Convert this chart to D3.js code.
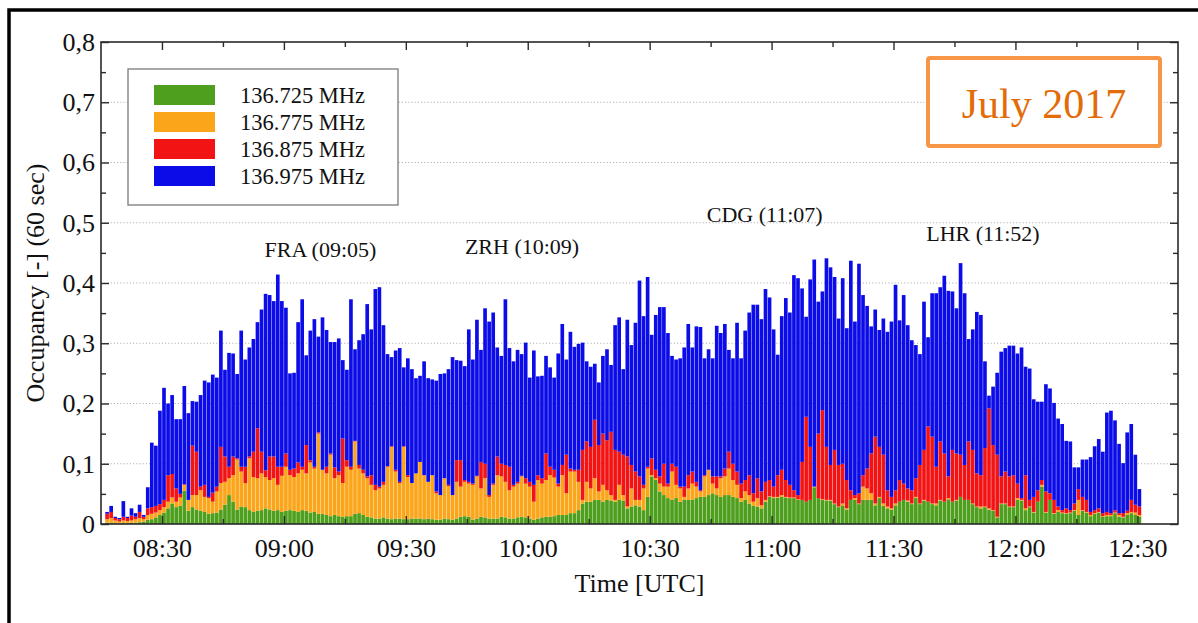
<!DOCTYPE html>
<html>
<head>
<meta charset="utf-8">
<script src="https://cdn.jsdelivr.net/npm/d3@7"></script>
<style>
body { margin: 0; background: #fff; }
svg text { font-family: "Liberation Serif", "Times New Roman", serif; fill: #111; }
</style>
</head>
<body>
<div id="chart"></div>
<script>
// one bar per minute, first bar starts at 08:16
var startTime = "08:16"
var xDomain = ["08:15", "12:40"]

var seriesNames = ["136.725 MHz", "136.775 MHz", "136.875 MHz", "136.975 MHz"]
var seriesColors = ["#4e9f1e", "#fba51a", "#f21414", "#0c0ce8"]

// occupancy per series (stacked bottom to top: green, orange, red, blue)
var green = [0.002,0.002,0.001,0.001,0.002,0.001,0.002,0.002,0.003,0.004,
0.007,0.008,0.011,0.015,0.019,0.026,0.034,0.028,0.030,0.055,
0.022,0.028,0.024,0.022,0.020,0.017,0.018,0.019,0.024,0.032,
0.048,0.037,0.024,0.029,0.028,0.023,0.020,0.022,0.023,0.026,
0.024,0.022,0.023,0.020,0.022,0.023,0.022,0.020,0.023,0.022,
0.019,0.020,0.017,0.017,0.015,0.013,0.015,0.013,0.012,0.013,
0.013,0.017,0.018,0.015,0.012,0.011,0.009,0.009,0.011,0.009,
0.008,0.009,0.009,0.008,0.008,0.009,0.009,0.009,0.008,0.009,
0.008,0.007,0.007,0.009,0.008,0.007,0.009,0.012,0.013,0.012,
0.007,0.009,0.012,0.011,0.009,0.009,0.009,0.012,0.011,0.009,
0.009,0.011,0.012,0.011,0.009,0.007,0.009,0.011,0.012,0.012,
0.013,0.015,0.015,0.015,0.018,0.018,0.023,0.034,0.037,0.037,
0.040,0.040,0.037,0.040,0.039,0.037,0.040,0.039,0.026,0.029,
0.031,0.029,0.023,0.045,0.079,0.073,0.054,0.048,0.043,0.040,
0.043,0.037,0.040,0.040,0.040,0.043,0.045,0.045,0.048,0.051,
0.048,0.045,0.048,0.048,0.045,0.043,0.037,0.040,0.034,0.030,
0.029,0.026,0.037,0.045,0.043,0.044,0.045,0.044,0.043,0.043,
0.040,0.040,0.037,0.040,0.061,0.043,0.040,0.039,0.039,0.033,
0.028,0.031,0.024,0.040,0.040,0.033,0.040,0.040,0.040,0.031,
0.043,0.030,0.026,0.024,0.031,0.037,0.040,0.037,0.033,0.043,
0.033,0.039,0.037,0.033,0.031,0.039,0.037,0.041,0.037,0.039,
0.045,0.040,0.040,0.033,0.028,0.026,0.028,0.024,0.022,0.011,
0.033,0.033,0.028,0.028,0.040,0.039,0.023,0.028,0.019,0.037,
0.062,0.019,0.040,0.017,0.020,0.018,0.017,0.018,0.022,0.015,
0.022,0.019,0.013,0.017,0.019,0.012,0.013,0.013,0.018,0.012,
0.011,0.015,0.018,0.015,0.012]

var orange = [0.006,0.008,0.005,0.003,0.004,0.004,0.004,0.006,0.007,0.004,
0.008,0.009,0.008,0.008,0.009,0.011,0.010,0.009,0.014,0.010,
0.018,0.020,0.024,0.034,0.025,0.026,0.019,0.035,0.044,0.038,
0.028,0.044,0.083,0.058,0.040,0.086,0.058,0.054,0.061,0.052,
0.049,0.054,0.042,0.060,0.073,0.058,0.056,0.064,0.067,0.062,
0.083,0.072,0.133,0.073,0.069,0.102,0.061,0.068,0.056,0.082,
0.077,0.120,0.074,0.069,0.064,0.054,0.047,0.050,0.054,0.086,
0.120,0.078,0.059,0.120,0.070,0.059,0.075,0.094,0.073,0.061,
0.073,0.044,0.041,0.067,0.055,0.041,0.061,0.050,0.057,0.055,
0.058,0.070,0.047,0.065,0.036,0.056,0.072,0.067,0.059,0.047,
0.053,0.056,0.067,0.056,0.053,0.030,0.064,0.056,0.061,0.069,
0.064,0.047,0.066,0.036,0.069,0.069,0.047,0.006,0.033,0.022,
0.036,0.014,0.028,0.016,0.009,0.003,0.025,0.009,0.003,0.030,
0.009,0.011,0.036,0.047,0.002,0.003,0.013,0.014,0.019,0.047,
0.022,0.022,0.005,0.019,0.027,0.019,0.009,0.034,0.042,0.016,
0.011,0.031,0.031,0.044,0.028,0.022,0.006,0.014,0.014,0.007,
0.014,0.005,0.003,0.001,0.002,0.001,0.003,0.001,0.001,0.001,
0.001,0,0,0,0.001,0,0.001,0.001,0.001,0.001,
0.001,0.003,0.002,0,0.003,0.001,0.022,0.019,0.011,0.003,
0.002,0.004,0.003,0.002,0.003,0,0,0.002,0.001,0.002,
0.001,0.001,0,0.001,0.003,0.001,0,0.002,0,0.001,
0,0,0,0.001,0.001,0.003,0.001,0.002,0.001,0.001,
0.001,0.001,0.001,0.001,0.003,0.001,0.003,0.001,0.001,0,
0.003,0.001,0,0.001,0.003,0.001,0.001,0.001,0.001,0.025,
0.001,0.001,0.002,0.001,0.001,0.001,0.002,0.002,0.001,0.003,
0.001,0.003,0.002,0.004,0.003]

var red = [0.009,0.010,0.004,0.004,0.006,0.005,0.008,0.004,0.010,0.004,
0.011,0.011,0.011,0.010,0.012,0.044,0.039,0.022,0.006,0.001,
0,0.082,0.072,0.006,0.020,0.002,0.015,0.008,0.060,0.042,
0.019,0.031,0.002,0.008,0.027,0.003,0.042,0.083,0.036,0.011,
0.039,0.036,0.030,0.015,0.022,0.009,0.014,0.018,0.005,0.047,
0.004,0.003,0.002,0,0.011,0.002,0.018,0.006,0.074,0.011,
0.005,0.001,0.006,0.006,0.003,0.016,0.009,0.003,0.005,0.001,
0.001,0.003,0.002,0.001,0.003,0,0,0,0,0,
0,0.003,0,0,0.002,0,0.036,0.044,0.003,0.003,
0.002,0.001,0.044,0.024,0.003,0.002,0.031,0.021,0.028,0.039,
0.003,0.003,0.001,0.009,0.008,0.028,0.008,0.009,0.044,0.014,
0.013,0.005,0.017,0.064,0.005,0.003,0.020,0.083,0.067,0.069,
0.097,0.077,0.085,0.083,0.105,0.083,0.055,0.067,0.083,0.039,
0.047,0.039,0.006,0.003,0.028,0.014,0.012,0.038,0.005,0.013,
0.030,0.003,0.017,0.022,0.020,0.008,0.002,0.002,0,0.012,
0.020,0.003,0.013,0.028,0.027,0.022,0.024,0.019,0.033,0.014,
0.033,0.023,0.030,0.027,0.017,0.036,0.042,0.028,0.021,0.012,
0.007,0.063,0.141,0.088,0,0.107,0.148,0.088,0.058,0.089,
0.069,0.066,0.047,0.016,0.005,0.017,0.019,0.033,0.066,0.111,
0.083,0.081,0.027,0.019,0.022,0.036,0.027,0.020,0.022,0.031,
0.064,0.083,0.125,0.111,0.061,0.097,0.080,0.036,0.086,0.077,
0.070,0.058,0.097,0.089,0.055,0.052,0.097,0.166,0.108,0.103,
0.045,0.053,0.050,0.052,0.024,0.003,0.055,0.011,0.025,0.019,
0.008,0.034,0.011,0.022,0.006,0.004,0.008,0.004,0.011,0.018,
0.022,0.020,0.005,0.005,0.006,0.005,0.005,0.003,0.004,0.003,
0.006,0.004,0.020,0.013,0.014]

var blue = [0.003,0.010,0.002,0.002,0.026,0.002,0.012,0.006,0.012,0.003,
0.035,0.107,0.100,0.155,0.186,0.119,0.131,0.115,0.124,0.163,
0.144,0.074,0.083,0.152,0.173,0.190,0.196,0.181,0.193,0.144,
0.189,0.171,0.140,0.226,0.178,0.181,0.187,0.176,0.236,0.293,
0.268,0.258,0.319,0.275,0.242,0.160,0.159,0.233,0.278,0.149,
0.215,0.245,0.159,0.253,0.227,0.185,0.208,0.221,0.130,0.150,
0.278,0.152,0.207,0.225,0.286,0.242,0.325,0.331,0.260,0.186,
0.148,0.198,0.222,0.131,0.194,0.189,0.158,0.143,0.189,0.172,
0.159,0.184,0.201,0.174,0.192,0.229,0.166,0.165,0.189,0.253,
0.206,0.259,0.186,0.258,0.288,0.284,0.181,0.179,0.275,0.197,
0.205,0.219,0.202,0.225,0.173,0.223,0.164,0.170,0.162,0.165,
0.153,0.216,0.234,0.158,0.227,0.204,0.209,0.178,0.133,0.133,
0.093,0.104,0.129,0.151,0.111,0.207,0.223,0.142,0.227,0.199,
0.247,0.325,0.280,0.315,0.205,0.257,0.281,0.260,0.250,0.179,
0.178,0.213,0.231,0.251,0.206,0.258,0.271,0.194,0.200,0.196,
0.250,0.238,0.240,0.169,0.175,0.247,0.208,0.248,0.270,0.313,
0.288,0.286,0.320,0.303,0.261,0.200,0.255,0.302,0.286,0.357,
0.360,0.288,0.166,0.278,0.377,0.219,0.197,0.313,0.328,0.287,
0.243,0.308,0.252,0.381,0.288,0.381,0.299,0.270,0.211,0.211,
0.194,0.226,0.263,0.291,0.341,0.265,0.313,0.271,0.249,0.221,
0.184,0.246,0.148,0.238,0.288,0.256,0.295,0.308,0.263,0.241,
0.318,0.285,0.170,0.200,0.268,0.266,0.144,0.021,0.097,0.136,
0.207,0.205,0.217,0.215,0.216,0.250,0.180,0.218,0.162,0.147,
0.130,0.178,0.174,0.161,0.146,0.143,0.112,0.114,0.060,0.036,
0.062,0.067,0.091,0.106,0.115,0.102,0.165,0.170,0.149,0.115,
0.083,0.130,0.126,0.083,0.029]

var xTickLabels = ["08:30", "09:00", "09:30", "10:00", "10:30", "11:00", "11:30", "12:00", "12:30"]
var xMinorLabels = ["08:45", "09:15", "09:45", "10:15", "10:45", "11:15", "11:45", "12:15"]
var yTicks = [0, 0.1, 0.2, 0.3, 0.4, 0.5, 0.6, 0.7, 0.8]
var yMinor = [0.05, 0.15, 0.25, 0.35, 0.45, 0.55, 0.65, 0.75]

// airport labels: text, time of label centre, occupancy at baseline
var airportText = ["FRA (09:05)", "ZRH (10:09)", "CDG (11:07)", "LHR (11:52)"]
var airportTime = ["09:09", "09:58.6", "10:58.3", "11:52"]
var airportY = [0.443, 0.448, 0.501, 0.47]

var periodLabel = "July 2017"


function toMin(s){
	var p = s.split(":")
	return (+p[0]) * 60 + parseFloat(p[1])
}

var width = 1198, height = 623
var plotL = 101, plotR = 1178, plotT = 42, plotB = 524

var svg = d3.select("#chart").append("svg")
	.attr("width", width)
	.attr("height", height)

var x = d3.scaleLinear()
	.domain([toMin(xDomain[0]), toMin(xDomain[1])])
	.range([plotL, plotR])

var y = d3.scaleLinear()
	.domain([0, 0.8])
	.range([plotB, plotT])

// dotted grid
svg.append("g").selectAll("line")
	.data(yTicks.filter(function(v){ return v > 0 && v < 0.8 }))
	.join("line")
	.attr("x1", plotL).attr("x2", plotR)
	.attr("y1", function(d){ return y(d) }).attr("y2", function(d){ return y(d) })
	.attr("stroke", "#b4b4b4")
	.attr("stroke-width", 1.2)
	.attr("stroke-dasharray", "1.2,2")

// stacked bars
var t0 = toMin(startTime)
var table = green.map(function(v, i){
	return { m: t0 + i, g: v, o: orange[i], r: red[i], b: blue[i] }
})
var stacked = d3.stack().keys(["g", "o", "r", "b"])(table)
var step = x(t0 + 1) - x(t0)

svg.append("g").selectAll("g")
	.data(stacked)
	.join("g")
	.attr("fill", function(d, i){ return seriesColors[i] })
	.selectAll("rect")
	.data(function(d){ return d })
	.join("rect")
	.attr("x", function(d){ return x(d.data.m) + 0.2 })
	.attr("width", step - 0.4)
	.attr("y", function(d){ return y(d[1]) })
	.attr("height", function(d){ return Math.max(0, y(d[0]) - y(d[1])) })

// plot frame
svg.append("rect")
	.attr("x", plotL).attr("y", plotT)
	.attr("width", plotR - plotL).attr("height", plotB - plotT)
	.attr("fill", "none")
	.attr("stroke", "#2a2a2a")
	.attr("stroke-width", 1.6)

var fmtY = function(v){ return v === 0 ? "0" : d3.format(".1f")(v).replace(".", ",") }
var majorX = xTickLabels.map(toMin)
var minorX = xMinorLabels.map(toMin)

function styleAxis(g){
	g.select(".domain").remove()
	g.selectAll("line").attr("stroke", "#2a2a2a").attr("stroke-width", 1.4)
	g.selectAll("text")
		.attr("fill", "#111")
		.style("font-family", "'Liberation Serif', 'Times New Roman', serif")
		.style("font-size", "26px")
}

svg.append("g").attr("transform", "translate(" + plotL + ",0)")
	.call(d3.axisLeft(y).tickValues(yTicks).tickSize(-8).tickPadding(6).tickFormat(fmtY))
	.call(styleAxis)
svg.append("g").attr("transform", "translate(" + plotL + ",0)")
	.call(d3.axisLeft(y).tickValues(yMinor).tickSize(-5).tickFormat(""))
	.call(styleAxis)
svg.append("g").attr("transform", "translate(" + plotR + ",0)")
	.call(d3.axisRight(y).tickValues(yTicks).tickSize(-8).tickFormat(""))
	.call(styleAxis)
svg.append("g").attr("transform", "translate(" + plotR + ",0)")
	.call(d3.axisRight(y).tickValues(yMinor).tickSize(-5).tickFormat(""))
	.call(styleAxis)

var xAxisG = svg.append("g").attr("transform", "translate(0," + plotB + ")")
	.call(d3.axisBottom(x).tickValues(majorX).tickSize(-8)
		.tickFormat(function(d, i){ return xTickLabels[i] }))
	.call(styleAxis)
xAxisG.selectAll("text").attr("y", 33).attr("dy", null)
svg.append("g").attr("transform", "translate(0," + plotB + ")")
	.call(d3.axisBottom(x).tickValues(minorX).tickSize(-5).tickFormat(""))
	.call(styleAxis)
svg.append("g").attr("transform", "translate(0," + plotT + ")")
	.call(d3.axisTop(x).tickValues(majorX).tickSize(-8).tickFormat(""))
	.call(styleAxis)
svg.append("g").attr("transform", "translate(0," + plotT + ")")
	.call(d3.axisTop(x).tickValues(minorX).tickSize(-5).tickFormat(""))
	.call(styleAxis)

// axis titles
svg.append("text")
	.attr("transform", "translate(44," + ((plotT + plotB) / 2) + ") rotate(-90)")
	.attr("text-anchor", "middle")
	.style("font-size", "26px")
	.text("Occupancy [-] (60 sec)")

svg.append("text")
	.attr("x", (plotL + plotR) / 2)
	.attr("y", 592)
	.attr("text-anchor", "middle")
	.style("font-size", "26px")
	.text("Time [UTC]")

// airport labels
svg.append("g").selectAll("text")
	.data(airportText)
	.join("text")
	.attr("x", function(d, i){ return x(toMin(airportTime[i])) })
	.attr("y", function(d, i){ return y(airportY[i]) })
	.attr("text-anchor", "middle")
	.style("font-size", "22px")
	.text(function(d){ return d })

// legend
var legend = svg.append("g")
legend.append("rect")
	.attr("x", 128).attr("y", 69)
	.attr("width", 270).attr("height", 136)
	.attr("fill", "#fff")
	.attr("stroke", "#7a7a7a")
	.attr("stroke-width", 1.3)

var items = legend.selectAll("g.item")
	.data(seriesNames)
	.join("g")
	.attr("class", "item")
	.attr("transform", function(d, i){ return "translate(0," + (i * 27) + ")" })
items.append("rect")
	.attr("x", 154).attr("y", 85)
	.attr("width", 61).attr("height", 20)
	.attr("fill", function(d, i){ return seriesColors[i] })
items.append("text")
	.attr("x", 240).attr("y", 103)
	.style("font-size", "22.5px")
	.text(function(d){ return d })

// month box
svg.append("rect")
	.attr("x", 928).attr("y", 58)
	.attr("width", 232).attr("height", 88)
	.attr("rx", 2)
	.attr("fill", "#fff")
	.attr("stroke", "#f79646")
	.attr("stroke-width", 4)
svg.append("text")
	.attr("x", 1044).attr("y", 118)
	.attr("text-anchor", "middle")
	.style("font-size", "42px")
	.style("fill", "#e36c09")
	.text(periodLabel)

// outer frame of the figure
svg.append("path")
	.attr("d", "M9," + height + "V10H" + width)
	.attr("fill", "none")
	.attr("stroke", "#000")
	.attr("stroke-width", 3.5)
</script>
</body>
</html>
